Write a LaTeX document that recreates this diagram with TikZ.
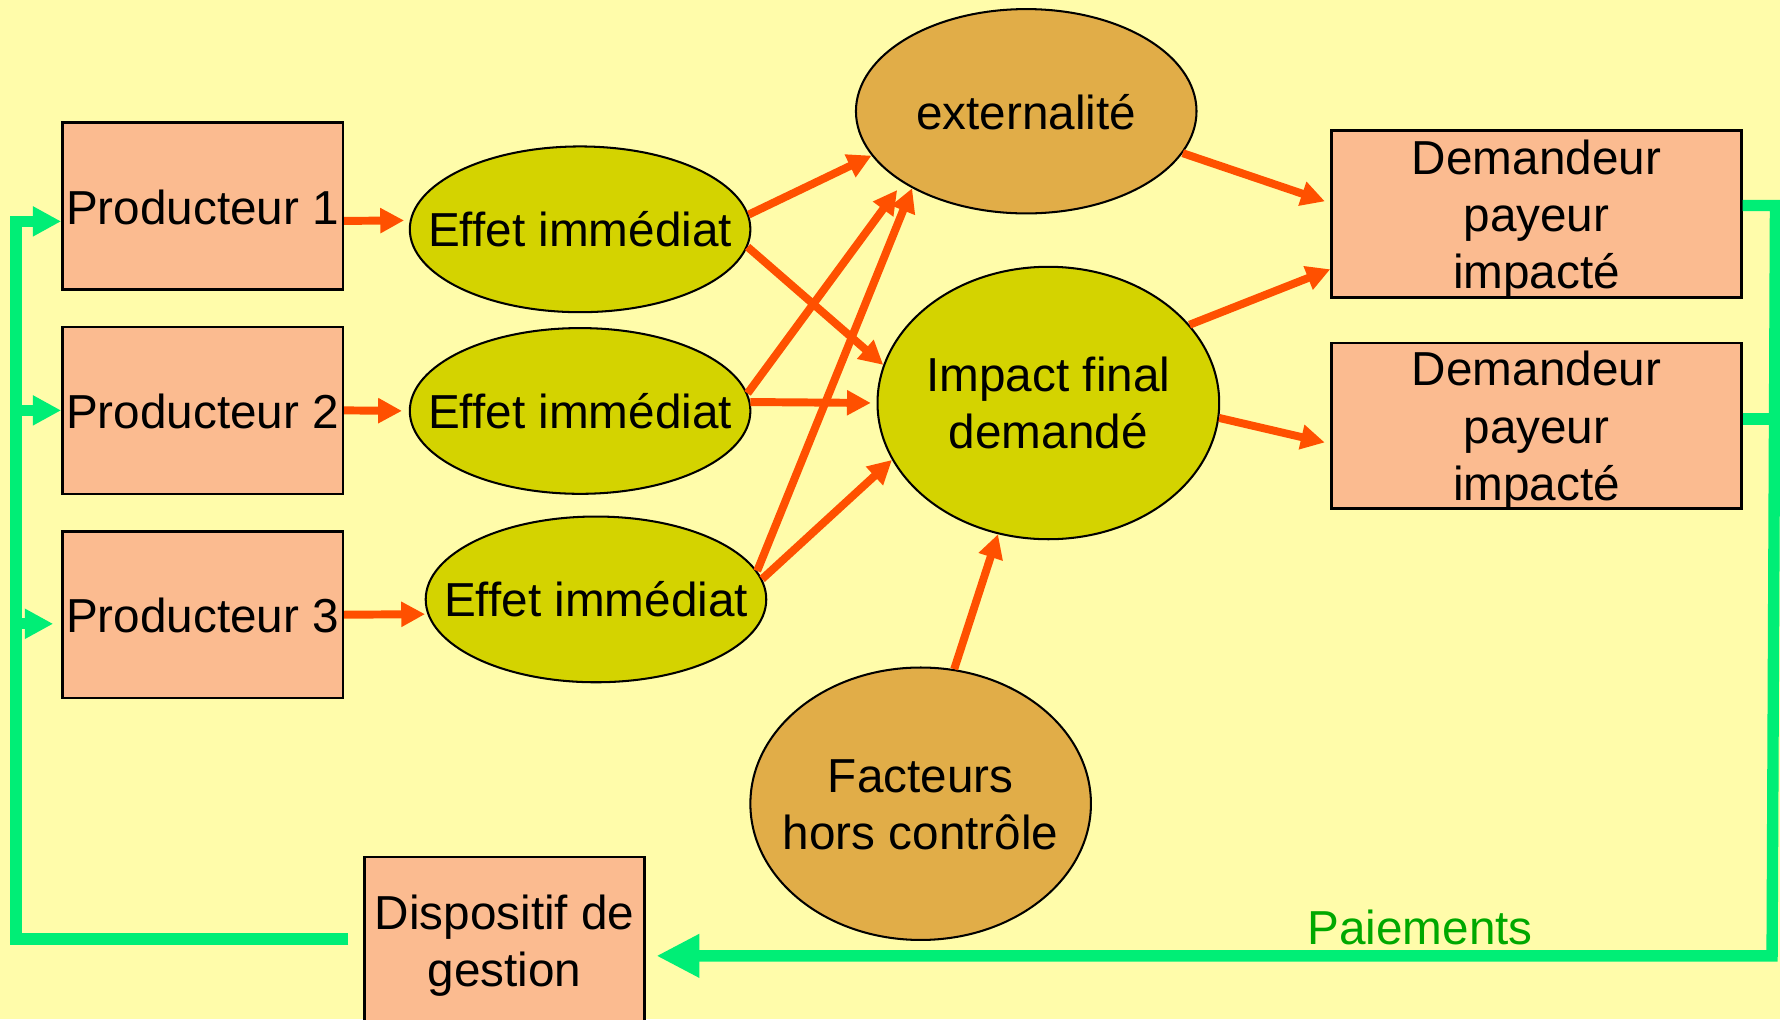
\documentclass[tikz,border=0pt]{standalone}
\usepackage{fontspec}
\setmainfont{Liberation Sans}
\usetikzlibrary{shapes.geometric,arrows.meta,calc}
\definecolor{bgc}{RGB}{255,252,170}
\definecolor{boxc}{RGB}{251,187,144}
\definecolor{olivec}{RGB}{212,211,0}
\definecolor{ochrec}{RGB}{225,173,72}
\definecolor{arrc}{RGB}{255,80,0}
\definecolor{grc}{RGB}{0,238,118}
\definecolor{paytext}{RGB}{0,168,0}
\newcommand{\ltext}[2]{\raisebox{-#1}[\height][\depth]{\begin{tabular}{@{}c@{}}#2\end{tabular}}}
\newcommand{\ztext}[2]{\makebox[0pt]{\ltext{#1}{#2}}}
\begin{document}
\begin{tikzpicture}[x=1pt,y=-1pt,
  every node/.style={font=\fontsize{42}{50.5}\selectfont},
  box/.style={draw=black, line width=2.3pt, fill=boxc, rectangle, inner sep=0pt},
  btext/.style={align=center, inner sep=0pt},
  ell/.style={draw=black, line width=1.8pt, ellipse, inner sep=0pt},
  oarrow/.style={draw=arrc, line width=7pt, -{Triangle[length=21pt,width=21pt]}},
  gline/.style={draw=grc, line width=10pt},
  garrow/.style={gline, -{Triangle[length=25pt,width=25pt]}},
]
\fill[bgc] (0,0) rectangle (1568,898);
\useasboundingbox (0,0) rectangle (1568,898);
\clip (0,0) rectangle (1568,898);

% nodes
\node[box, minimum width=247pt, minimum height=147pt, label={[btext, yshift=-1pt]center:Producteur 1}] (p1) at (178.5,181.5) {};
\node[box, minimum width=247pt, minimum height=147pt, label={[btext, yshift=-1pt]center:Producteur 2}] (p2) at (178.5,361.5) {};
\node[box, minimum width=247pt, minimum height=147pt, label={[btext, yshift=-1pt]center:Producteur 3}] (p3) at (178.5,541.5) {};
\node[ell, fill=olivec, minimum width=300pt, minimum height=146pt] (e1) at (511,202) {\ztext{5pt}{Effet immédiat}};
\node[ell, fill=olivec, minimum width=300pt, minimum height=146pt] (e2) at (511,362) {\ztext{5pt}{Effet immédiat}};
\node[ell, fill=olivec, minimum width=300pt, minimum height=146pt] (e3) at (525,528) {\ztext{5pt}{Effet immédiat}};
\node[ell, fill=ochrec, minimum width=300pt, minimum height=180pt] (ext) at (904,98) {\ztext{6pt}{externalité}};
\node[ell, fill=olivec, minimum width=301pt, minimum height=240pt] (imp) at (923.5,355) {\ztext{5pt}{Impact final\\demandé}};
\node[ell, fill=ochrec, minimum width=300pt, minimum height=240pt] (fac) at (811,708) {\ztext{5pt}{Facteurs\\hors contrôle}};
\node[box, minimum width=361pt, minimum height=147pt, label={[btext, yshift=-4.5pt]center:Demandeur\\payeur\\impacté}] (d1) at (1353.5,188.5) {};
\node[box, minimum width=361pt, minimum height=146pt, label={[btext, yshift=-4.5pt]center:Demandeur\\payeur\\impacté}] (d2) at (1353.5,375) {};
\node[box, minimum width=247pt, minimum height=150pt, label={[btext, yshift=-3pt]center:Dispositif de\\gestion}] (disp) at (444.5,830) {};
\node[text=paytext] (pay) at (1251,817) {Paiements};

% orange arrows
\draw[oarrow, shorten >=5pt] (p1.-6) -- (e1.177);
\draw[oarrow, shorten >=6pt] (p2.east) -- (e2.west);
\draw[oarrow, shorten >=2pt] (p3.east) -- (e3.185);
\draw[oarrow] (e1.5) -- (ext.196);
\draw[oarrow] (e1.-6) -- (imp.167);
\draw[oarrow, shorten >=8pt] (e2.6) -- (ext.210);
\draw[oarrow, shorten >=5pt] (e2.3) -- (imp.180);
\draw[oarrow] (e3.10) -- (ext.214);
\draw[oarrow] (e3.7) -- (imp.200);
\draw[oarrow] (fac.76) -- (imp.249);
\draw[oarrow, shorten >=5pt] (ext.-15) -- (d1.177);
\draw[oarrow] (imp.29) -- (d1.195);
\draw[oarrow, shorten >=5pt] (imp.-5) -- (d2.185);

% green feedback loop
\coordinate (gl) at (14,195);
\coordinate (gr) at (1564,181);
\coordinate (gb) at (1561,842);
\coordinate (p3in) at ([xshift=-7pt,yshift=-8pt]p3.west);
\coordinate (d2o) at ([yshift=6pt]d2.east);
\draw[garrow] ([xshift=-13pt,yshift=3pt]disp.west) -| (gl) -- (gl -| p1.west);
\draw[garrow] (gl |- p2.west) -- (p2.west);
\draw[garrow] (gl |- p3in) -- (p3in);
\draw[gline, -{Triangle[length=38pt,width=36pt]}] (d1.east |- gr) -- (gr) -- (gb) -- ([xshift=9pt,yshift=-12pt]disp.east);
\draw[gline] (d2o) -- (d2o -| gr);
\end{tikzpicture}
\end{document}
